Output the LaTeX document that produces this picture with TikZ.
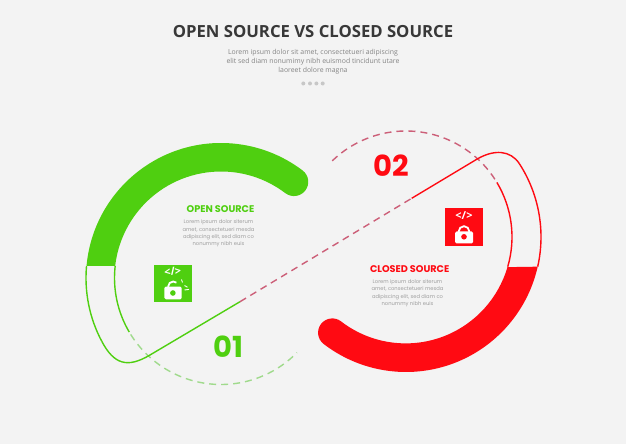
\documentclass[tikz,border=0pt]{standalone}
\usepackage{fontspec}
\setmainfont{Open Sans}
\newfontfamily\popfont{Poppins}
\usepackage{tikz}

\definecolor{bggray}{HTML}{F3F3F3}
\definecolor{opengreen}{HTML}{4FCF10}
\definecolor{closedred}{HTML}{FF0A12}
\definecolor{opendash}{HTML}{A0DA8C}
\definecolor{closeddash}{HTML}{CC5F78}

\tikzset{
	title/.style={font=\bfseries\fontsize{16.7}{20}\selectfont, text=black!78},
	subtitle/.style={font=\fontsize{6.9}{9}\selectfont, text=black!48, align=center},
	head/.style={font=\popfont\bfseries\fontsize{9.7}{10}\selectfont, inner sep=0pt},
	body/.style={font=\popfont\fontsize{5.2}{7.1}\selectfont, text=black!38, align=center, inner sep=0pt},
	number/.style={font=\popfont\bfseries\fontsize{29}{29}\selectfont, inner sep=0pt},
	thin line/.style={line width=1.4pt},
	dash line/.style={line width=1.4pt, dash pattern=on 7pt off 5pt},
	code/.style={font=\bfseries\fontsize{11}{11}\selectfont, text=white, inner sep=0pt},
	dot/.style={circle, fill=black!22, minimum size=4pt, inner sep=0pt}
}

\begin{document}
\begin{tikzpicture}[x=1pt,y=1pt]

	\fill[bggray] (0,0) rectangle (626,444);
	\useasboundingbox (0,0) rectangle (626,444);

	% heading
	\node[title] (t) at (313,412) {OPEN SOURCE VS CLOSED SOURCE};
	\node[subtitle] (s) at (313,382.7) {Lorem ipsum dolor sit amet, consectetueri adipiscing\\elit sed diam nonumimy nibh euismod tincidunt utare\\laoreet dolore magna};
	\node[dot] (d1) at (303.3,360.5) {};
	\node[dot] (d2) at (310,360.5) {};
	\node[dot] (d3) at (316.4,360.5) {};
	\node[dot] (d4) at (322.7,360.5) {};

	% green half
	\begin{scope}[shift={(221,166)}]
		\fill[opengreen] (174.9:135) arc (174.9:52.8:135) arc (52.8:-127.2:14.25) arc (52.8:173.5:106.5) -- cycle;
		\draw[thin line, opengreen] (173.5:106.5) arc (173.5:210.5:106.5);
		\draw[dash line, opendash] (212:106.5) arc (212:315.5:106.5);
		\draw[thin line, opengreen] (174.9:135) arc (174.9:208:135);
		\coordinate (ga) at (208:135);
	\end{scope}
	\coordinate (gb) at (150,89);
	\coordinate (gc) at (240,142.3);
	\draw[thin line, opengreen] (ga) .. controls (114.1,79.5) and (127.4,75.6) .. (gb) -- (gc);

	% red half
	\begin{scope}[shift={(406,207)}]
		\fill[closedred] (-12.7:135) arc (-12.7:-127.6:135) arc (232.4:52.4:14.25) arc (232.4:343.7:106) -- cycle;
		\draw[thin line, closedred] (-16.3:106) arc (-16.3:31:106);
		\draw[dash line, closeddash] (33:106) arc (33:136:106);
		\draw[thin line, closedred] (-12.7:135) arc (-12.7:33:135);
		\coordinate (ra) at (33:135);
	\end{scope}
	\coordinate (rb) at (476.7,284.7);
	\coordinate (rc) at (411.7,245.7);
	\draw[thin line, closedred] (ra) .. controls (510.6,293.5) and (494.5,295.2) .. (rb) -- (rc);

	% middle link
	\draw[dash line, closeddash] (gc) -- (rc);

	% labels
	\node[head, text=opengreen] (h1) at (220.5,235) {OPEN SOURCE};
	\node[body] (b1) at (218.5,210.7) {Lorem ipsum dolor siterum\\amet, consectetueri mesda\\adipiscing elit, sed diam co\\nonummy nibh euis};
	\node[number, text=opengreen] (n1) at (228,97.3) {01};

	\node[head, text=closedred] (h2) at (409.7,175.3) {CLOSED SOURCE};
	\node[body] (b2) at (407.5,150.8) {Lorem ipsum dolor siterum\\amet, consectetueri mesda\\adipiscing elit, sed diam co\\nonummy nibh euis};
	\node[number, text=closedred] (n2) at (391.5,278.5) {02};

	% open lock
	\node[fill=opengreen, minimum size=37.5pt, inner sep=0pt] (i1) at (173,160.5) {};
	\node[code, rotate=8] (c1) at (172.7,172.5) {</>};
	\draw[white, line width=1.8pt] (168.2,155) -- (168.2,157.5) arc (180:50:5);
	\fill[white, rounded corners=1.5pt] (164.3,144.7) rectangle (181.7,157.3);
	\fill[opengreen] (172.9,151) circle (2.8);
	\draw[white, line width=0.9pt] (181.5,164.5) -- (182.5,161.5) (184.5,158.5) -- (187.5,156.8) (184.5,154) -- (189,154.6);

	% closed lock
	\node[fill=closedred, minimum size=37.5pt, inner sep=0pt] (i2) at (464,216.8) {};
	\node[code] (c2) at (464,228.7) {</>};
	\draw[white, line width=1.8pt] (458.7,210) -- (458.7,212.5) arc (180:0:5.3) -- (469.3,210);
	\fill[white, rounded corners=1.5pt] (455,200.5) rectangle (473.2,212.5);
	\fill[closedred] (464,207.2) circle (2.8);

\end{tikzpicture}
\end{document}
